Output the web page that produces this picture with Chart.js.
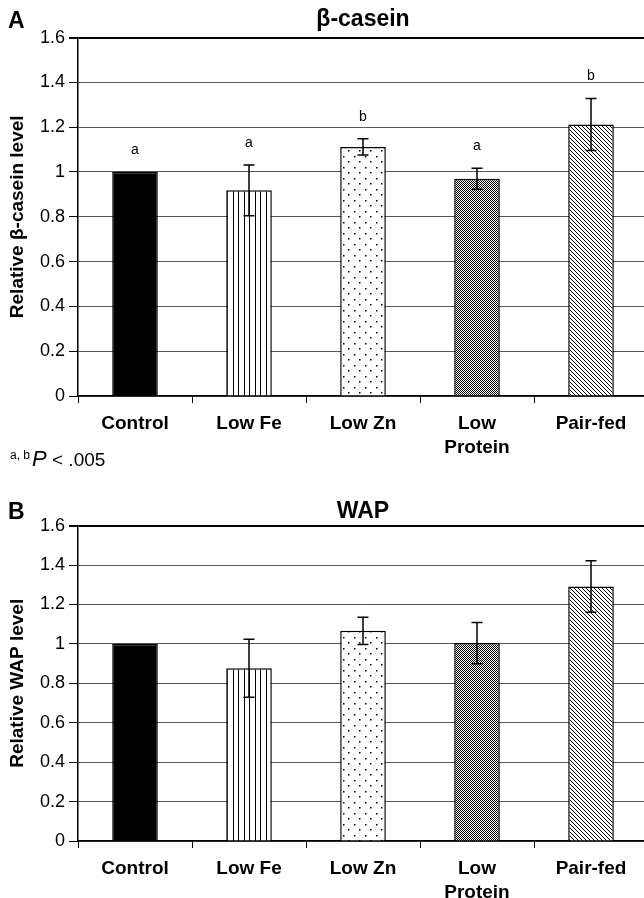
<!DOCTYPE html>
<html>
<head>
<meta charset="utf-8" />
<title>β-casein and WAP</title>
<script src="https://cdn.jsdelivr.net/npm/chart.js"></script>
<style>
    html, body { margin: 0; padding: 0; background: #fff; overflow: hidden; }
    body { width: 644px; height: 898px; position: relative; font-family: "Liberation Sans", Arial, sans-serif; color: #000; }
    .panel { position: absolute; left: 0; width: 652px; }
    .letter { position: absolute; left: 8px; font-weight: bold; font-size: 23px; line-height: 23px; }
    #note { position: absolute; left: 10px; top: 444px; font-size: 19px; line-height: 22px; }
    #note sup { font-size: 12px; vertical-align: 7px; margin-right: 2px; }
    #note i { font-size: 22px; }
</style>
</head>
<body>
<div class="panel" style="top: 0; height: 470px;"><canvas id="casein"></canvas></div>
<div class="panel" style="top: 470px; height: 428px;"><canvas id="wap"></canvas></div>
<div class="letter" style="top: 9px;">A</div>
<div id="note"><sup>a, b</sup><i>P</i> &lt; .005</div>
<div class="letter" style="top: 500px;">B</div>

<script>
    // values
    const groups = ['Control', 'Low Fe', 'Low Zn', ['Low', 'Protein'], 'Pair-fed'];

    const caseinMean = [1.00, 0.918, 1.112, 0.970, 1.212];
    const caseinErr = [0, 0.113, 0.036, 0.047, 0.116];
    const caseinLetters = ['a', 'a', 'b', 'a', 'b'];

    const wapMean = [1.00, 0.876, 1.066, 1.004, 1.291];
    const wapErr = [0, 0.147, 0.069, 0.105, 0.131];

    const yMin = 0;
    const yMax = 1.6;
    const yStep = 0.2;

    const FONT = '"Liberation Sans", Arial, sans-serif';

    // small tiles for the bar hatching
    function tile(w, h, draw) {
        const c = document.createElement('canvas');
        c.width = w;
        c.height = h;
        const g = c.getContext('2d');
        g.fillStyle = '#fff';
        g.fillRect(0, 0, w, h);
        g.fillStyle = '#000';
        draw(g);
        return g.createPattern(c, 'repeat');
    }

    function barFills() {
        return [
            '#000',
            tile(11, 1, g => { g.fillRect(2, 0, 1, 1); g.fillRect(7, 0, 1, 1); }),
            tile(11, 11, g => { g.fillRect(2, 2, 1.5, 1.5); g.fillRect(7, 7, 1.5, 1.5); }),
            tile(2, 2, g => { g.fillRect(0, 0, 1, 1); g.fillRect(1, 1, 1, 1); }),
            tile(4, 4, g => { for (let i = 0; i < 4; i++) g.fillRect(i, i, 1, 1); })
        ];
    }

    const errorBars = {
        id: 'errorBars',
        afterDatasetsDraw(chart, args, opts) {
            const ctx = chart.ctx;
            const y = chart.scales.y;
            const meta = chart.getDatasetMeta(0);
            ctx.save();
            ctx.strokeStyle = '#000';
            ctx.lineWidth = 1.5;
            ctx.fillStyle = '#000';
            ctx.font = '14px ' + FONT;
            ctx.textAlign = 'center';
            ctx.textBaseline = 'middle';
            meta.data.forEach((bar, i) => {
                const m = opts.means[i];
                const e = opts.errors[i];
                const top = y.getPixelForValue(m + e);
                if (e > 0) {
                    const bot = y.getPixelForValue(m - e);
                    ctx.beginPath();
                    ctx.moveTo(bar.x, top); ctx.lineTo(bar.x, bot);
                    ctx.moveTo(bar.x - 5.5, top); ctx.lineTo(bar.x + 5.5, top);
                    ctx.moveTo(bar.x - 5.5, bot); ctx.lineTo(bar.x + 5.5, bot);
                    ctx.stroke();
                }
                if (opts.letters) {
                    ctx.fillText(opts.letters[i], bar.x, top - 22);
                }
            });
            ctx.restore();
        }
    };

    function makeChart(id, title, yTitle, means, errors, letters, titlePad, xHeight) {
        return new Chart(document.getElementById(id), {
            type: 'bar',
            data: {
                labels: groups,
                datasets: [{
                    data: means,
                    backgroundColor: barFills(),
                    borderColor: '#000',
                    borderWidth: 1.5,
                    barPercentage: 0.4,
                    categoryPercentage: 1
                }]
            },
            plugins: [errorBars],
            options: {
                responsive: true,
                maintainAspectRatio: false,
                animation: false,
                layout: { padding: { left: 0, right: 4, top: 0, bottom: 0 } },
                plugins: {
                    legend: { display: false },
                    tooltip: { enabled: false },
                    title: {
                        display: true,
                        text: title,
                        fullSize: false,
                        color: '#000',
                        font: { family: FONT, size: 23, weight: 'bold' },
                        padding: titlePad
                    },
                    errorBars: { means: means, errors: errors, letters: letters }
                },
                scales: {
                    x: {
                        grid: { drawOnChartArea: false, offset: true, tickLength: 7, tickColor: '#000', tickWidth: 1 },
                        border: { color: '#000', width: 1.5 },
                        ticks: {
                            color: '#000',
                            autoSkip: false,
                            maxRotation: 0,
                            padding: 9,
                            font: { family: FONT, size: 19, weight: 'bold', lineHeight: '24px' }
                        },
                        afterFit(scale) { scale.height = xHeight; }
                    },
                    y: {
                        min: yMin,
                        max: yMax,
                        grid: {
                            color: c => (c.tick && c.tick.value >= yMax - 1e-9) ? '#000' : '#555',
                            lineWidth: c => (c.tick && c.tick.value >= yMax - 1e-9) ? 2 : 1,
                            tickLength: 9,
                            tickColor: '#000'
                        },
                        border: { color: '#000', width: 1.5 },
                        ticks: {
                            stepSize: yStep,
                            padding: 4,
                            color: '#000',
                            font: { family: FONT, size: 18 },
                            callback: v => String(+v.toFixed(1))
                        },
                        title: {
                            display: true,
                            text: yTitle,
                            color: '#000',
                            font: { family: FONT, size: 19, weight: 'bold' },
                            padding: { top: 6, bottom: 0 }
                        },
                        afterFit(scale) { scale.width = 78; }
                    }
                }
            }
        });
    }

    makeChart('casein', 'β-casein', 'Relative β-casein level',
        caseinMean, caseinErr, caseinLetters, { top: 6, bottom: 4 }, 74);

    makeChart('wap', 'WAP', 'Relative WAP level',
        wapMean, wapErr, null, { top: 28, bottom: 0 }, 57);
</script>
</body>
</html>
